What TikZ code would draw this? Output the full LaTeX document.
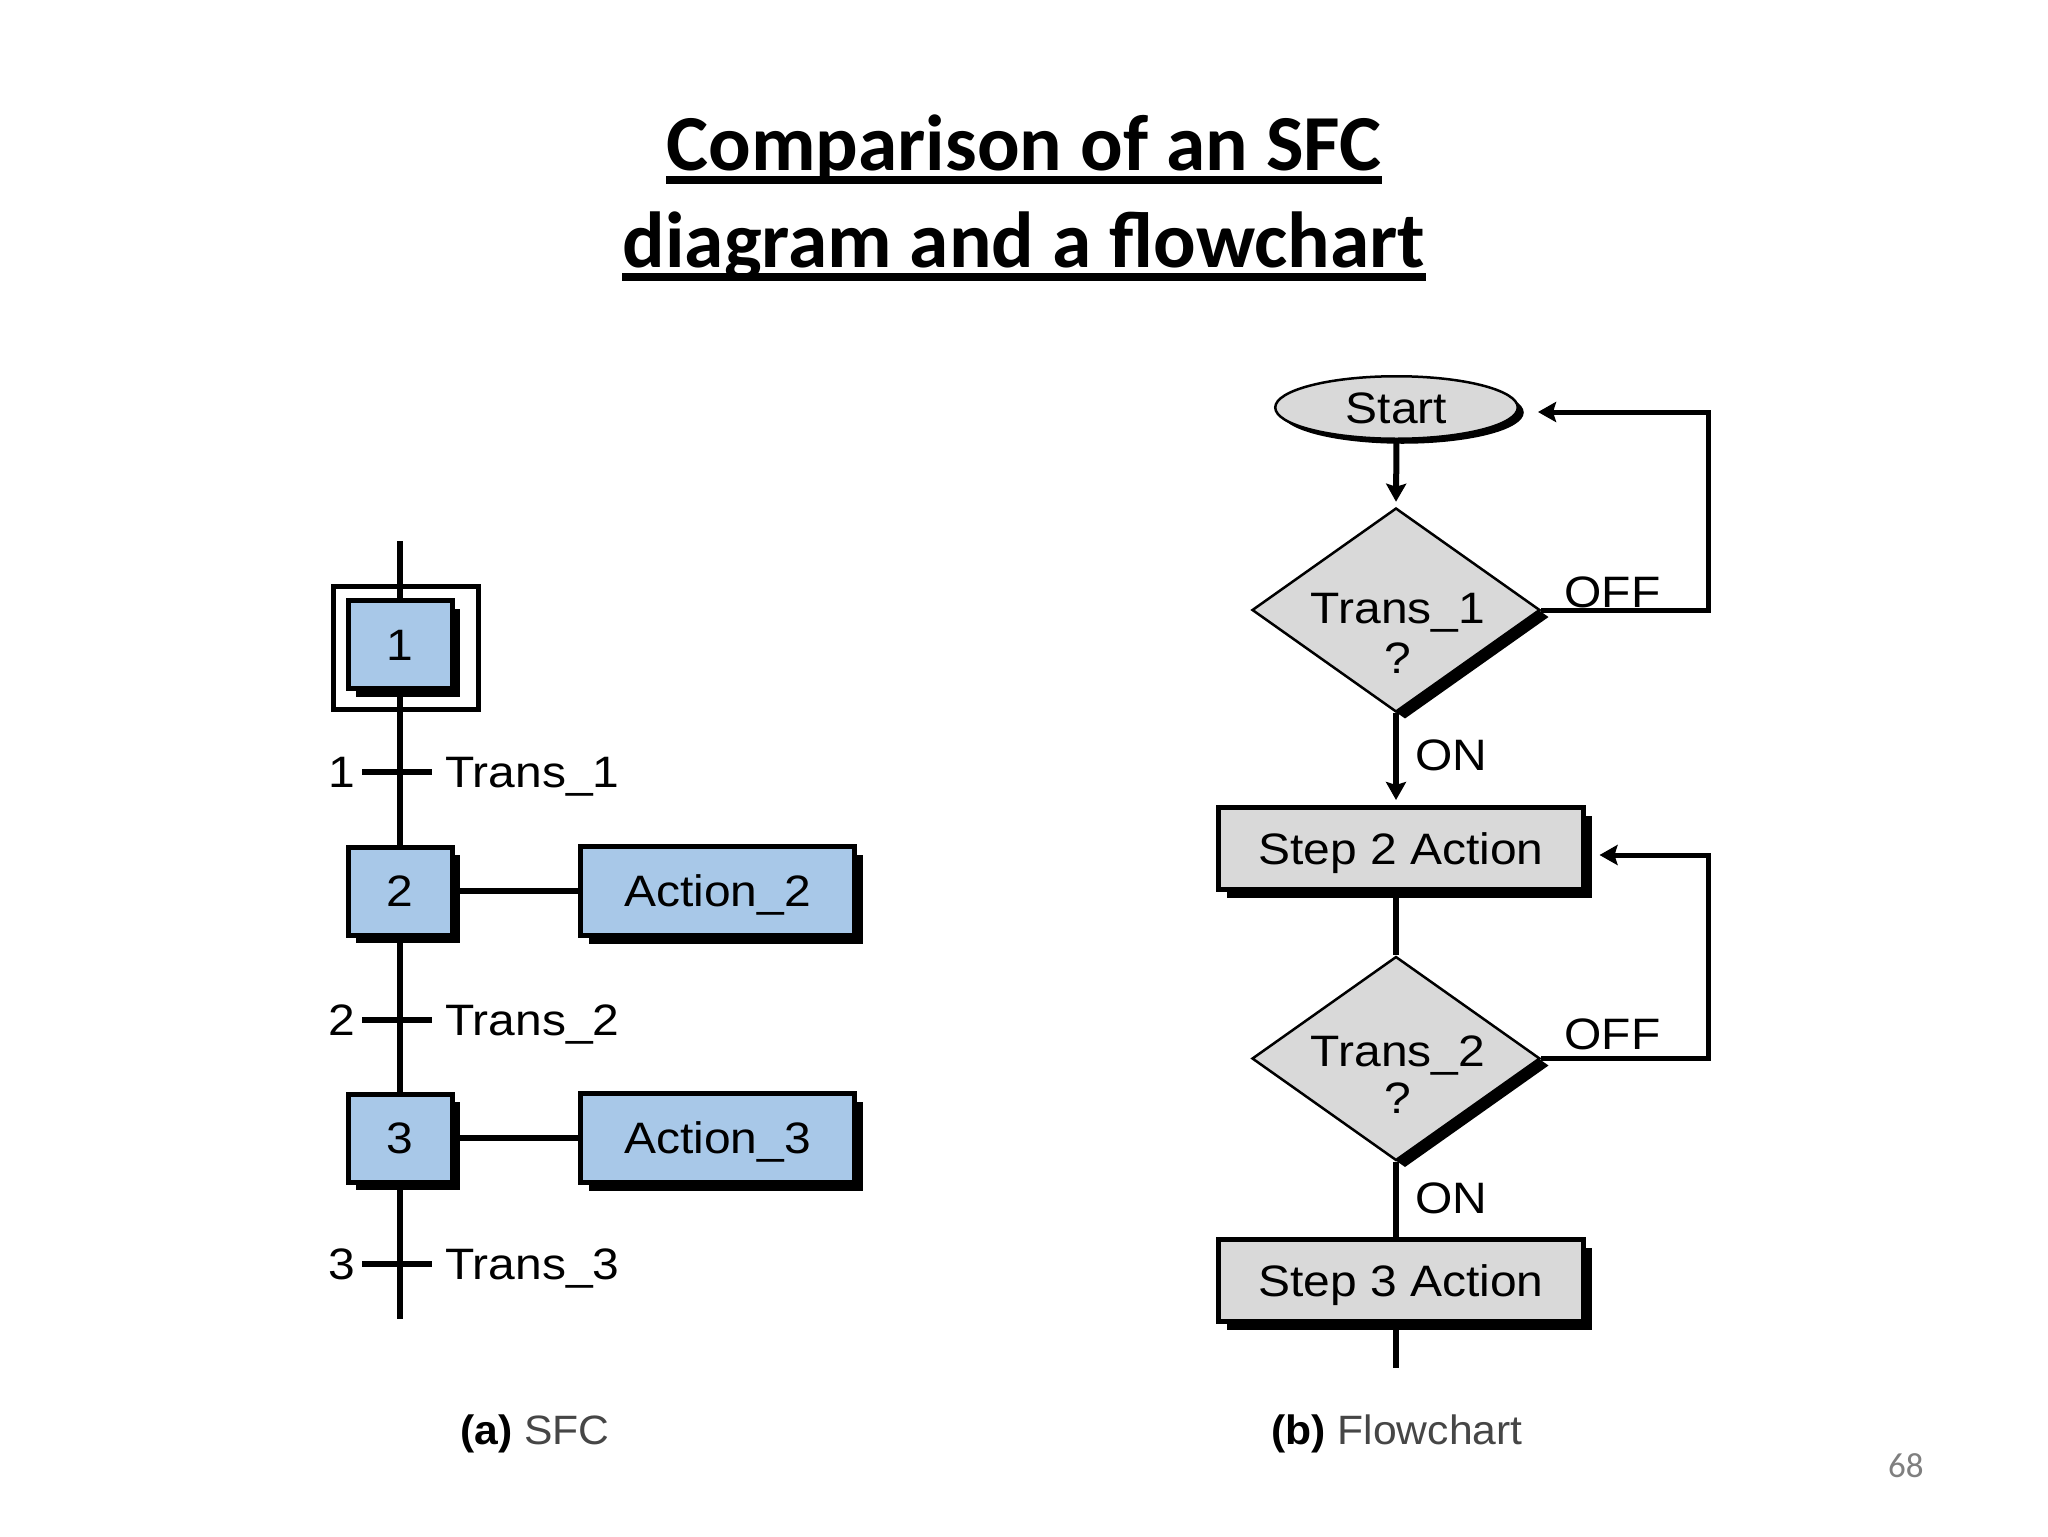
\documentclass[tikz,border=0pt]{standalone}
\usepackage{fontspec}
\setmainfont{Liberation Sans}
\newfontfamily\titlefont{Carlito}
\newfontfamily\lblfont[FakeStretch=1.09]{Liberation Sans}
\newfontfamily\capfont[FakeStretch=1.04]{Liberation Sans}
\usetikzlibrary{shapes.geometric,shadows,arrows.meta,calc}

\definecolor{sfcblue}{RGB}{168,200,232}
\definecolor{fcgray}{RGB}{217,217,217}
\definecolor{capgray}{RGB}{70,70,70}
\definecolor{pggray}{RGB}{127,127,127}

\begin{document}
\begin{tikzpicture}[x=0.5pt,y=-0.5pt,
  lbl/.style={font=\lblfont\fontsize{22pt}{26pt}\selectfont, inner sep=0pt},
  boxtext/.style={font=\lblfont\fontsize{22pt}{26pt}\selectfont, text height=15.75pt, text depth=0pt},
  sfcbox/.style={boxtext, rectangle, draw=black, line width=2.5pt, fill=sfcblue, inner sep=0pt,
    general shadow={fill=black, shadow xshift=4pt, shadow yshift=-4pt}},
  stepbox/.style={sfcbox, minimum width=52pt, minimum height=44pt},
  actbox/.style={sfcbox, minimum width=137pt, minimum height=44.5pt},
  initframe/.style={rectangle, draw=black, line width=2.5pt, minimum width=72.5pt, minimum height=61.5pt, inner sep=0pt},
  wire/.style={line width=3pt, line cap=butt, line join=miter},
  loopwire/.style={line width=2.5pt, line cap=butt, line join=miter},
  arr/.style={-{Stealth[length=9pt,width=10pt,inset=1.5pt]}},
  oval/.style={ellipse, boxtext, draw=black, line width=1.25pt, fill=fcgray, inner sep=0pt,
    minimum width=121.25pt, minimum height=31.25pt,
    general shadow={fill=black, shadow xshift=3pt, shadow yshift=-2.5pt}},
  dia/.style={diamond, draw=black, line width=1.25pt, fill=fcgray, inner sep=0pt,
    minimum width=144pt, minimum height=102pt,
    general shadow={fill=black, shadow xshift=4.5pt, shadow yshift=-3.5pt}},
  fcbox/.style={rectangle, boxtext, draw=black, line width=2.5pt, fill=fcgray, inner sep=0pt,
    minimum width=182.5pt, minimum height=41pt,
    general shadow={fill=black, shadow xshift=4pt, shadow yshift=-4pt}},
  ttl/.style={font=\titlefont\bfseries\fontsize{39.7pt}{48pt}\selectfont, inner sep=0pt},
  uline/.style={line width=4pt},
  captext/.style={font=\capfont\fontsize{20.5pt}{25pt}\selectfont, inner sep=0pt},
  pgtext/.style={font=\titlefont\fontsize{17.5pt}{21pt}\selectfont, text=pggray, inner sep=0pt}
]
\fill[white] (0,0) rectangle (2048,1536);
\useasboundingbox (0,0) rectangle (2048,1536);

% ---------- title ----------
\node[ttl, anchor=base] (ttl1) at (1024,170) {Comparison of an SFC};
\node[ttl, anchor=base] (ttl2) at (1024,267) {diagram and a flowchart};
\draw[uline] ($(ttl1.base west)+(0,10)$) -- ($(ttl1.base east)+(0,10)$);
\draw[uline] ($(ttl2.base west)+(0,10)$) -- ($(ttl2.base east)+(0,10)$);

% ---------- SFC ----------
\node[initframe] (s1f) at (406,648) {};
\node[stepbox] (s1) at (400,644.5) {1};
\node[stepbox] (s2) at (400,891) {2};
\node[stepbox] (s3) at (400,1138) {3};
\node[actbox] (a2) at (717.5,891) {Action\_2};
\node[actbox] (a3) at (717.5,1138) {Action\_3};

\coordinate (ltop) at (400,541);
\coordinate (lbot) at (400,1319);
\draw[wire] (ltop) -- (s1.north);
\draw[wire] (s1.south) -- (s2.north);
\draw[wire] (s2.south) -- (s3.north);
\draw[wire] (s3.south) -- (lbot);

\draw[wire, line width=2.75pt] (s2.east) -- (a2.west);
\draw[wire, line width=2.75pt] (s3.east) -- (a3.west);

\coordinate (t1l) at (362,772);  \coordinate (t1r) at (432,772);
\coordinate (t2l) at (362,1020); \coordinate (t2r) at (432,1020);
\coordinate (t3l) at (362,1264); \coordinate (t3r) at (432,1264);
\draw[wire] (t1l) -- (t1r);
\draw[wire] (t2l) -- (t2r);
\draw[wire] (t3l) -- (t3r);

\node[lbl, anchor=base] (t1n) at (342,787.5) {1};
\node[lbl, anchor=base] (t2n) at (342,1035.5) {2};
\node[lbl, anchor=base] (t3n) at (342,1279.5) {3};
\node[lbl, anchor=base west] (t1t) at (445,787.5) {Trans\_1};
\node[lbl, anchor=base west] (t2t) at (445,1035.5) {Trans\_2};
\node[lbl, anchor=base west] (t3t) at (445,1279.5) {Trans\_3};

% ---------- Flowchart ----------
\node[oval] (st) at (1396.5,407.5) {Start};
\node[dia] (d1) at (1396,610) {};
\node[lbl, anchor=base] (d1t) at (1398,623) {Trans\_1};
\node[lbl, anchor=base] (d1q) at (1398,673) {?};
\node[fcbox] (f2) at (1401,848.5) {Step 2 Action};
\node[dia] (d2) at (1396,1058.5) {};
\node[lbl, anchor=base] (d2t) at (1398,1066) {Trans\_2};
\node[lbl, anchor=base] (d2q) at (1398,1113) {?};
\node[fcbox] (f3) at (1401,1280.5) {Step 3 Action};

\coordinate (fend) at (1396,1368);
\coordinate (loop1) at (1708,412);
\coordinate (loop2) at (1708,855);

\draw[wire, arr] (st.south) -- ($(d1.north)+(0,-5)$);
\draw[wire, arr] (d1.south) -- ($(d1.south |- f2.north)+(0,-5)$);
\draw[loopwire, arr] (d1.east) -| (loop1) -- ($(st.east |- loop1)+(19,0)$);
\draw[wire] (d2.north |- f2.south) -- (d2.north);
\draw[wire] (d2.south) -- (d2.south |- f3.north);
\draw[loopwire, arr] (d2.east) -| (loop2) -- ($(f2.east |- loop2)+(13.5,0)$);
\draw[wire] (fend |- f3.south) -- (fend);

\node[lbl, anchor=base west] (off1) at (1564,607) {OFF};
\node[lbl, anchor=base west] (on1) at (1415,770.5) {ON};
\node[lbl, anchor=base west] (off2) at (1564,1049.5) {OFF};
\node[lbl, anchor=base west] (on2) at (1415,1213) {ON};

% ---------- captions ----------
\node[captext, anchor=base west] (capa) at (460,1444) {\textbf{(a)} \textcolor{capgray}{SFC}};
\node[captext, anchor=base west] (capb) at (1271,1444) {\textbf{(b)} \textcolor{capgray}{Flowchart}};
\node[pgtext, anchor=base east] (pgno) at (1924,1477) {68};
\end{tikzpicture}
\end{document}
